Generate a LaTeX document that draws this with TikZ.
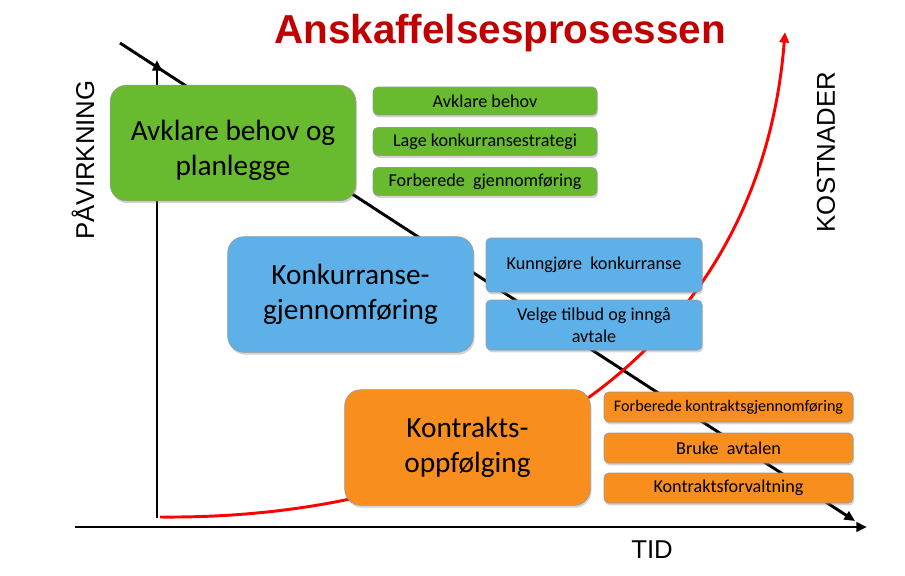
\documentclass[tikz,border=0pt]{standalone}
\usepackage{fontspec}
\setmainfont{Carlito}
\newfontfamily\headfont{Liberation Sans}
\usetikzlibrary{arrows.meta,shadows}
\definecolor{planGreen}{RGB}{104,186,46}
\definecolor{tenderBlue}{RGB}{94,177,232}
\definecolor{followOrange}{RGB}{247,142,30}
\definecolor{titleRed}{RGB}{192,0,0}
\definecolor{costRed}{RGB}{255,0,0}

\begin{document}
\begin{tikzpicture}[x=0.03cm,y=-0.03cm]
  \useasboundingbox (0,0) rectangle (905,575);

  % axes and curves
  \coordinate (origin) at (157,518);
  \coordinate (ytop)   at (157,60);
  \coordinate (xleft)  at (75,527);
  \coordinate (xright) at (867,527);
  \coordinate (dstart) at (120,43);
  \coordinate (dend)   at (855,521);
  \coordinate (cstart) at (160,517);
  \coordinate (cend)   at (785,32);

  \begin{scope}[line width=2.5pt, >={Triangle[length=9pt,width=8pt]}]
    \draw[->] (origin) -- (ytop);
    \draw[->] (xleft) -- (xright);
    \draw[->] (dstart) -- (dend);
    \draw[->, costRed] (cstart) .. controls (500,520) and (760,350) .. (cend);
  \end{scope}

  \begin{scope}[every node/.style={draw=black!40, line width=0.5pt, inner sep=0pt, align=center,
      drop shadow={opacity=0.35, shadow xshift=1pt, shadow yshift=-2pt}}]
    % phase boxes
    \begin{scope}[every node/.append style={rounded corners=14pt, minimum width=7.37cm,
        minimum height=3.47cm, font=\fontsize{25}{30}\selectfont}]
      \node[fill=planGreen]    (g) at (233,143)   {\rule{0pt}{30pt}Avklare behov og\\planlegge};
      \node[fill=tenderBlue]   (b) at (350.5,294.5) {Konkurranse-\\gjennomføring};
      \node[fill=followOrange] (o) at (467.5,447.5) {Kontrakts-\\oppfølging};
    \end{scope}

    % activity boxes
    \begin{scope}[every node/.append style={rounded corners=4pt, font=\fontsize{15.5}{19}\selectfont}]
      \node[fill=planGreen, minimum width=6.72cm, minimum height=0.84cm] (g1) at (485,101)   {Avklare behov};
      \node[fill=planGreen, minimum width=6.72cm, minimum height=0.84cm] (g2) at (485,141.5) {Lage konkurransestrategi};
      \node[fill=planGreen, minimum width=6.72cm, minimum height=0.84cm] (g3) at (485,181.5) {Forberede\ \ gjennomføring};

      \node[fill=tenderBlue, minimum width=6.48cm, minimum height=1.62cm] (b1) at (594,265) {Kunngjøre\ \ konkurranse};
      \node[fill=tenderBlue, minimum width=6.48cm, minimum height=1.5cm]  (b2) at (594,325) {Velge tilbud og inngå\\avtale};

      \node[fill=followOrange, minimum width=7.47cm, minimum height=0.9cm, font=\fontsize{13.8}{17}\selectfont] (o1) at (728.5,407) {Forberede kontraktsgjennomføring};
      \node[fill=followOrange, minimum width=7.47cm, minimum height=0.9cm] (o2) at (728.5,448) {Bruke\ \ avtalen};
      \node[fill=followOrange, minimum width=7.47cm, minimum height=0.9cm] (o3) at (728.5,488) {Kontraktsforvaltning};
    \end{scope}
  \end{scope}

  % labels
  \begin{scope}[every node/.style={font=\headfont\fontsize{22}{26}\selectfont, inner sep=0pt}]
    \node[rotate=90] (impact) at (83,160)  {PÅVIRKNING};
    \node[rotate=90] (cost)   at (826,152) {KOSTNADER};
    \node (time) at (652,550) {TID};
  \end{scope}
  \node[font=\headfont\bfseries\fontsize{34.5}{40}\selectfont, text=titleRed, inner sep=0pt, anchor=base]
    (title) at (500,43) {Anskaffelsesprosessen};
\end{tikzpicture}
\end{document}
